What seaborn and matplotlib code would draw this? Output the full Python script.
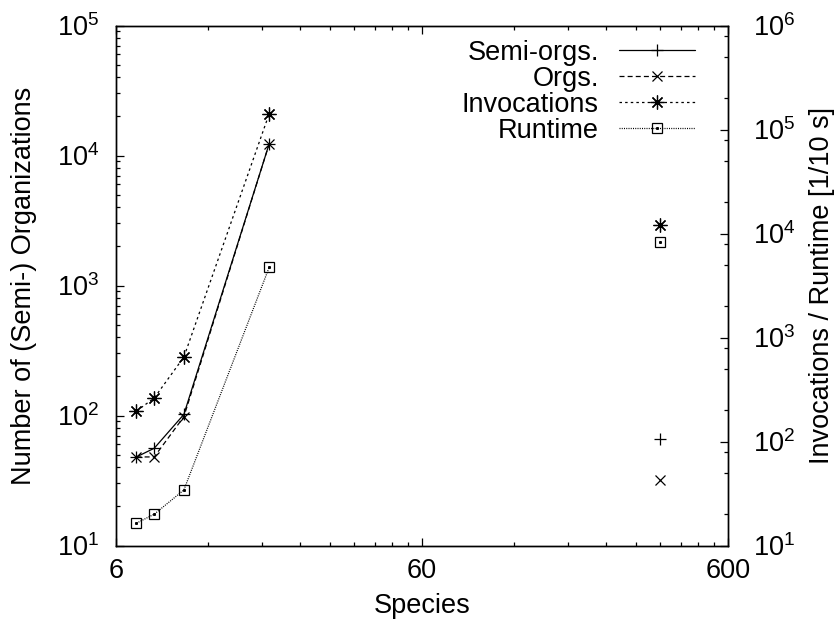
import numpy as np
import pandas as pd
import seaborn as sns
import matplotlib
matplotlib.use("Agg")
import matplotlib.pyplot as plt
from matplotlib.ticker import FixedLocator, FixedFormatter, LogLocator, LogFormatterMathtext, NullFormatter
from matplotlib.lines import Line2D

# ---------------- data ----------------
species = [7, 8, 10, 19]
semi_orgs = [48, 56, 102, 12300]
orgs = [48, 48, 98, 12300]
invocations = [196, 262, 649, 141700]
runtime = [16.4, 20, 34.2, 4730]

extra_species = [360]
extra_semi_orgs = [66]
extra_orgs = [32]
extra_invocations = [12000]
extra_runtime = [8200]

x_major = [6, 60, 600]
x_major_labels = ["6", "60", "600"]
x_minor = [12, 18, 24, 30, 36, 42, 48, 54, 120, 180, 240, 300, 360, 420, 480, 540]

labels = ["Semi-orgs.", "Orgs.", "Invocations", "Runtime"]

# ---------------- style ----------------
sns.set_theme(style="ticks", rc={
    "axes.edgecolor": "black", "xtick.color": "black", "ytick.color": "black",
    "text.color": "black", "axes.labelcolor": "black",
    "xtick.direction": "in", "ytick.direction": "in",
    "axes.linewidth": 1.0,
})
plt.rcParams["font.family"] = ["Liberation Sans", "DejaVu Sans"]
plt.rcParams["mathtext.fontset"] = "custom"
plt.rcParams["mathtext.rm"] = "Liberation Sans"
plt.rcParams["mathtext.it"] = "Liberation Sans:italic"
plt.rcParams["mathtext.default"] = "regular"

FS = 19.5
W, H = 837, 632
L, R, T, B = 116, 728, 25.5, 545.5

fig = plt.figure(figsize=(W / 100, H / 100), dpi=100)
ax = fig.add_axes([L / W, 1 - B / H, (R - L) / W, (B - T) / H])
ax2 = ax.twinx()

lw = 0.9
MEW = 0.9
common = dict(color="black", linewidth=lw, markeredgewidth=MEW, markeredgecolor="black", legend=False)

ST_SEMI = dict(marker="+", markersize=9)
ST_ORGS = dict(marker="x", markersize=7)
ST_INV = dict(marker=(8, 2, 0), markersize=10)
ST_RT = dict(marker="s", markersize=6.5, markerfacecolor="none")
ST_DOT = dict(marker="s", markersize=1.2, markerfacecolor="black")

DASH_ORGS = (0, (4, 2.5))
DASH_INV = (0, (2, 2.5))
DASH_RT = (0, (0.8, 1.0))

sns.lineplot(x=species, y=semi_orgs, ax=ax, linestyle="-", **ST_SEMI, **common)
sns.lineplot(x=species, y=orgs, ax=ax, linestyle=DASH_ORGS, **ST_ORGS, **common)
sns.lineplot(x=species, y=invocations, ax=ax2, linestyle=DASH_INV, **ST_INV, **common)
sns.lineplot(x=species, y=runtime, ax=ax2, linestyle=DASH_RT, **ST_RT, **common)
sns.lineplot(x=species, y=runtime, ax=ax2, linestyle="none", **ST_DOT, **common)

# isolated points
sns.lineplot(x=extra_species, y=extra_semi_orgs, ax=ax, linestyle="none", **ST_SEMI, **common)
sns.lineplot(x=extra_species, y=extra_orgs, ax=ax, linestyle="none", **ST_ORGS, **common)
sns.lineplot(x=extra_species, y=extra_invocations, ax=ax2, linestyle="none", **ST_INV, **common)
sns.lineplot(x=extra_species, y=extra_runtime, ax=ax2, linestyle="none", **ST_RT, **common)
sns.lineplot(x=extra_species, y=extra_runtime, ax=ax2, linestyle="none", **ST_DOT, **common)

# ---------------- axes ----------------
ax.set_xscale("log")
ax.set_yscale("log")
ax2.set_yscale("log")
ax.set_xlim(6, 600)
ax.set_ylim(10, 1e5)
ax2.set_ylim(10, 1e6)

ax.xaxis.set_major_locator(FixedLocator(x_major))
ax.xaxis.set_major_formatter(FixedFormatter(x_major_labels))
ax.xaxis.set_minor_locator(FixedLocator(x_minor))
ax.xaxis.set_minor_formatter(NullFormatter())

ax.yaxis.set_major_locator(LogLocator(base=10, numticks=10))
ax.yaxis.set_major_formatter(LogFormatterMathtext())
ax.yaxis.set_minor_locator(LogLocator(base=10, subs=np.arange(2, 10), numticks=20))
ax.yaxis.set_minor_formatter(NullFormatter())

ax2.yaxis.set_major_locator(LogLocator(base=10, numticks=10))
ax2.yaxis.set_major_formatter(LogFormatterMathtext())
ax2.yaxis.set_minor_locator(LogLocator(base=10, subs=[2, 5, 8], numticks=20))
ax2.yaxis.set_minor_formatter(NullFormatter())

ax.tick_params(axis="x", which="both", top=True, bottom=True, labelsize=FS, pad=9)
ax.tick_params(axis="y", which="both", left=True, right=False, labelsize=FS, pad=12)
ax2.tick_params(axis="y", which="both", left=False, right=True, labelsize=FS, pad=18)
for a in (ax, ax2):
    a.tick_params(which="major", length=6, width=0.9)
    a.tick_params(which="minor", length=3.2, width=0.9)
for s in ax2.spines.values():
    s.set_linewidth(1.0)

ax.set_xlabel("Species", fontsize=FS, va="center")
ax.set_ylabel("Number of (Semi-) Organizations", fontsize=FS, va="center")
ax2.set_ylabel("Invocations / Runtime [1/10 s]", fontsize=FS, va="center", rotation=90)
ax.xaxis.set_label_coords(0.5, -(606 - B) / (B - T))
ax.yaxis.set_label_coords((24 - L) / (R - L), 0.5)
ax2.yaxis.set_label_coords((822 - L) / (R - L), 0.5)

# ---------------- legend ----------------
lk = dict(color="black", lw=lw, markeredgewidth=MEW, markeredgecolor="black")
h_semi = Line2D([], [], linestyle="-", **ST_SEMI, **lk)
h_orgs = Line2D([], [], linestyle=DASH_ORGS, **ST_ORGS, **lk)
h_inv = Line2D([], [], linestyle=DASH_INV, **ST_INV, **lk)
h_rt = Line2D([], [], linestyle=DASH_RT, **ST_RT, **lk)
h_rt_dot = Line2D([], [], linestyle="none", **ST_DOT, **lk)

ax2.legend([h_semi, h_orgs, h_inv, (h_rt, h_rt_dot)], labels,
           loc="upper right", bbox_to_anchor=(1 - 33 / (R - L), 1 - 14 / (B - T)),
           frameon=False, markerfirst=False, fontsize=FS, handlelength=2.8,
           handletextpad=0.75, labelspacing=0.0, borderpad=0, borderaxespad=0)

fig.savefig("out.png", dpi=100)
